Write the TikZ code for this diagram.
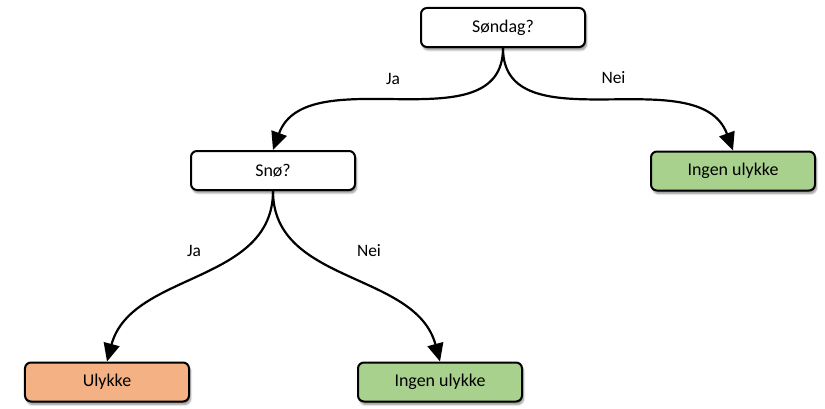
\documentclass[tikz,border=0pt]{standalone}
\usepackage{fontspec}
\setmainfont{Carlito}
\usepackage{tikz}
\usetikzlibrary{arrows.meta,shadows.blur}
\definecolor{ulykkefarge}{RGB}{244,177,131}
\definecolor{ingenfarge}{RGB}{169,209,142}
\tikzset{
  boks/.style={draw=black, line width=2bp, rounded corners=6bp, fill=white,
    minimum width=164bp, minimum height=39bp, font=\fontsize{18}{21}\selectfont,
    blur shadow={shadow xshift=1.5bp, shadow yshift=-3bp, shadow opacity=45, shadow blur steps=6}},
  gren/.style={line width=2.2bp, -{Triangle[length=18bp, width=16bp]}},
  svar/.style={font=\fontsize{17.5}{20}\selectfont}
}
\begin{document}
\begin{tikzpicture}[x=1bp,y=1bp]
\useasboundingbox (0,0) rectangle (825,408);
\node[boks] (sondag) at (503,380.5) {Søndag?};
\node[boks] (sno) at (273,237.5) {Snø?};
\node[boks, fill=ingenfarge] (ingen1) at (733,237) {Ingen ulykke};
\node[boks, fill=ulykkefarge] (ulykke) at (107,26) {Ulykke};
\node[boks, fill=ingenfarge] (ingen2) at (440,26) {Ingen ulykke};
\draw[gren] (sondag.south) to[out=-90,in=70] (sno.north);
\draw[gren] (sondag.south) to[out=-90,in=110] (ingen1.north);
\draw[gren] (sno.south) to[out=-90,in=75] (ulykke.north);
\draw[gren] (sno.south) to[out=-90,in=105] (ingen2.north);
\node[svar] (ja1) at (393,329) {Ja};
\node[svar] (nei1) at (613.5,330) {Nei};
\node[svar] (ja2) at (194,157) {Ja};
\node[svar] (nei2) at (369,157) {Nei};
\end{tikzpicture}
\end{document}
